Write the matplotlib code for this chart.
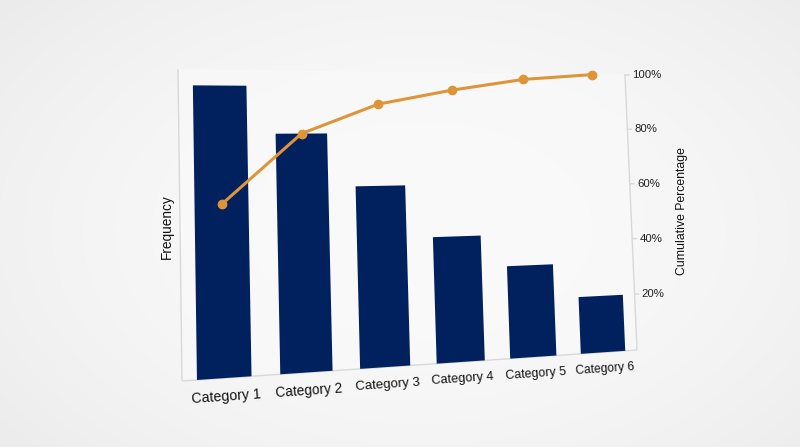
import numpy as np
import matplotlib
matplotlib.use("Agg")
import matplotlib.pyplot as plt
from matplotlib.transforms import Transform

# Chart data
categories = ["Category 1", "Category 2", "Category 3", "Category 4", "Category 5", "Category 6"]
frequency = [95, 79, 61, 43, 32, 20]
cumulative_pct = [56, 79, 89, 94, 98, 100]
pct_ticks = [20, 40, 60, 80, 100]
pct_labels = ["20%", "40%", "60%", "80%", "100%"]

BAR_COLOR = "#00215E"
LINE_COLOR = "#DE953A"
SPINE_COLOR = "#d8d8d8"

plt.rcParams["font.family"] = ["Liberation Sans", "DejaVu Sans"]

W, H = 800, 447


class Perspective(Transform):
    """Projective warp from axes fraction to figure fraction."""
    input_dims = 2
    output_dims = 2
    is_separable = False
    has_inverse = True

    def __init__(self, matrix):
        super().__init__()
        self.matrix = matrix

    def transform_non_affine(self, values):
        values = np.asarray(values, dtype=float).reshape(-1, 2)
        p = np.column_stack([values, np.ones(len(values))]) @ self.matrix.T
        return p[:, :2] / p[:, 2:]

    def inverted(self):
        return Perspective(np.linalg.inv(self.matrix))


def homography(src, dst):
    rows, rhs = [], []
    for (x, y), (u, v) in zip(src, dst):
        rows.append([x, y, 1, 0, 0, 0, -u * x, -u * y])
        rhs.append(u)
        rows.append([0, 0, 0, x, y, 1, -v * x, -v * y])
        rhs.append(v)
    h = np.linalg.solve(np.array(rows, float), np.array(rhs, float))
    return np.append(h, 1.0).reshape(3, 3)


# corners of the tilted plot area in the picture (pixels, y down)
quad_px = [(182, 381), (637, 350), (625, 75), (178, 70)]
quad_fig = [(x / W, 1 - y / H) for x, y in quad_px]
warp = Perspective(homography([(0, 0), (1, 0), (1, 1), (0, 1)], quad_fig))

fig = plt.figure(figsize=(W / 100, H / 100), dpi=100)

# soft vignette background
bg = fig.add_axes([0, 0, 1, 1], zorder=-10)
gy, gx = np.mgrid[0:H, 0:W]
r = np.hypot((gx - 420) / 520, (gy - 230) / 330)
shade = np.clip(0.978 - 0.05 * r ** 2, 0.9, 1.0)
bg.imshow(np.dstack([shade] * 3), aspect="auto", extent=(0, 1, 0, 1))
bg.set_axis_off()

ax = fig.add_axes([0.2, 0.2, 0.6, 0.6])
ax2 = ax.twinx()
for a in (ax, ax2):
    a.set_axis_off()
ax.set_xlim(-0.5, len(categories) - 0.5)
ax.set_ylim(0, 100)
ax2.set_ylim(0, 100)

to_fig = ax.transAxes.inverted() + warp + fig.transFigure
t_axes = ax.transAxes + to_fig
t_bar = ax.transData + to_fig
t_pct = ax2.transData + to_fig

# slightly lighter plot area
ax.fill([0, 1, 1, 0], [0, 0, 1, 1], color="#fafafa", alpha=0.6, transform=t_axes,
        clip_on=False, zorder=0)

# frame lines: left, bottom, right
ax.plot([0, 0, 1, 1], [1, 0, 0, 1], color=SPINE_COLOR, lw=1, transform=t_axes,
        clip_on=False, zorder=1)

x = np.arange(len(categories))
bars = ax.bar(x, frequency, width=0.65, color=BAR_COLOR, transform=t_bar, zorder=2)
for b in bars:
    b.set_clip_on(False)

ax2.plot(x, cumulative_pct, color=LINE_COLOR, lw=2.2, marker="o", markersize=6,
         transform=t_pct, clip_on=False, zorder=3)

# right-hand percentage ticks
t_right = ax2.get_yaxis_transform() + to_fig
for val, lab in zip(pct_ticks, pct_labels):
    ax2.plot([1.0, 1.01], [val, val], color=SPINE_COLOR, lw=1, transform=t_right, clip_on=False)
    ax2.text(1.018, val, lab, ha="left", va="center", fontsize=8.2, color="#222222",
             transform=t_right, clip_on=False)

# category labels following the tilted baseline
t_bottom = ax.get_xaxis_transform() + to_fig
for i, name in enumerate(categories):
    p0, p1 = t_bottom.transform([[i - 0.5, 0], [i + 0.5, 0]])
    pitch = np.hypot(*(p1 - p0))
    angle = np.degrees(np.arctan2(p1[1] - p0[1], p1[0] - p0[0]))
    ax.text(i + 0.02, -0.058, name, ha="center", va="center", rotation=angle,
            rotation_mode="anchor", fontsize=9.6 * (pitch / 78) ** 0.8, color="#111111",
            transform=t_bottom, clip_on=False)

fig.text(167 / W, 1 - 227 / H, "Frequency", rotation=90, ha="center", va="center",
         fontsize=9.8, color="#111111")
fig.text(682 / W, 1 - 211 / H, "Cumulative Percentage", rotation=90, ha="center",
         va="center", fontsize=8.8, color="#111111")

fig.savefig("out.png", dpi=100)
